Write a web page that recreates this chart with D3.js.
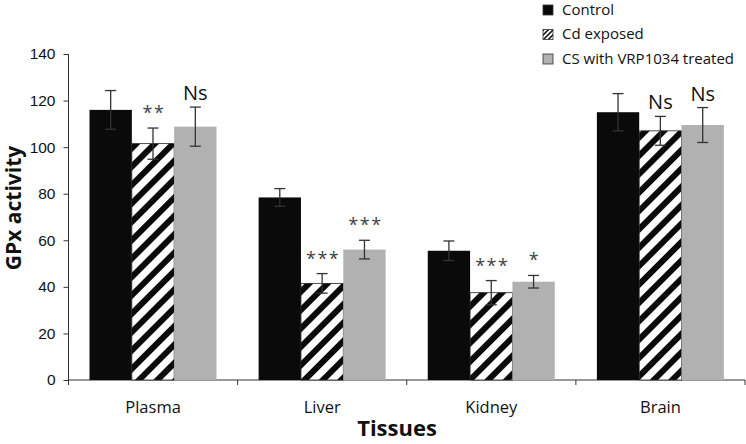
<!DOCTYPE html>
<html><head><meta charset="utf-8">
<script src="https://cdn.jsdelivr.net/npm/d3@7/dist/d3.min.js"></script>
<style>body{margin:0;background:#fff}svg{display:block;font-family:"Open Sans",sans-serif}</style>
</head><body><svg id="c" width="746" height="444"></svg>
<script>
const categories = ["Plasma","Liver","Kidney","Brain"];
const seriesNames = ["Control","Cd exposed","CS with VRP1034 treated"];
const controlVals = [116, 78.4, 55.5, 115];
const controlErr  = [8.3, 3.8, 4.2, 8];
const cdVals      = [101.5, 41.5, 37.5, 107];
const cdErr       = [6.7, 4.2, 5.2, 6.2];
const csVals      = [108.8, 56, 42.2, 109.5];
const csErr       = [8.4, 4, 2.7, 7.5];
const cdLabels    = ["**","***","***","Ns"];
const csLabels    = ["Ns","***","*","Ns"];
const yTicks      = [0,20,40,60,80,100,120,140];

const svg = d3.select("#c");
const defs = svg.append("defs");
const p1 = defs.append("pattern").attr("id","hatch").attr("patternUnits","userSpaceOnUse")
  .attr("width",13).attr("height",13).attr("patternTransform","rotate(45)");
p1.append("rect").attr("width",13).attr("height",13).attr("fill","#fff");
p1.append("rect").attr("x",0).attr("width",6).attr("height",13).attr("fill","#0a0a0a");
const p2 = defs.append("pattern").attr("id","hatchS").attr("patternUnits","userSpaceOnUse")
  .attr("width",3.4).attr("height",3.4).attr("patternTransform","rotate(45)");
p2.append("rect").attr("width",3.4).attr("height",3.4).attr("fill","#fff");
p2.append("rect").attr("width",1.6).attr("height",3.4).attr("fill","#111");

const y = d3.scaleLinear().domain([0,140]).range([380,54]);
const x0 = d3.scaleBand().domain(categories).range([68.5,745]);
const x1 = d3.scaleBand().domain(seriesNames).range([21,148]);

const series = [
  {name:seriesNames[0], vals:controlVals, err:controlErr, fill:"#0a0a0a", stroke:"none", labels:null},
  {name:seriesNames[1], vals:cdVals, err:cdErr, fill:"url(#hatch)", stroke:"#222", labels:cdLabels},
  {name:seriesNames[2], vals:csVals, err:csErr, fill:"#b1b1b1", stroke:"none", labels:csLabels}
];

// axes
const yAxis = svg.append("g").attr("transform","translate(68.5,0)")
  .call(d3.axisLeft(y).tickValues(yTicks).tickSize(5).tickPadding(8).tickSizeOuter(0));
yAxis.select(".domain").attr("stroke","#333").attr("d","M0,54V383");
yAxis.selectAll("line").attr("stroke","#333");
yAxis.selectAll("text").attr("font-size",15.5).attr("fill","#111");

const xAxis = svg.append("g").attr("transform","translate(0,380)");
xAxis.append("line").attr("x1",68.5).attr("x2",745).attr("stroke","#333");
const bounds = categories.map(c=>x0(c)).concat([x0.range()[1]]);
xAxis.selectAll(".tk").data(bounds).join("line").attr("x1",d=>d).attr("x2",d=>d)
  .attr("y1",0).attr("y2",5).attr("stroke","#333");
xAxis.selectAll(".lb").data(categories).join("text")
  .attr("x",d=>x0(d)+x0.bandwidth()/2).attr("y",33).attr("text-anchor","middle")
  .attr("font-size",16.5).attr("fill","#111").text(d=>d);

// bars
series.forEach(s=>{
  const g = svg.append("g");
  categories.forEach((c,i)=>{
    const bx = x0(c)+x1(s.name), bw = x1.bandwidth();
    g.append("rect").attr("x",bx).attr("y",y(s.vals[i])).attr("width",bw)
      .attr("height",y(0)-y(s.vals[i])).attr("fill",s.fill)
      .attr("stroke",s.stroke).attr("stroke-width",0.8);
  });
});
series.forEach(s=>{
  categories.forEach((c,i)=>{
    const cx = x0(c)+x1(s.name)+x1.bandwidth()/2;
    const t = y(s.vals[i]+s.err[i]), b = y(s.vals[i]-s.err[i]);
    const g = svg.append("g").attr("stroke","#333").attr("stroke-width",1.3);
    g.append("line").attr("x1",cx).attr("x2",cx).attr("y1",t).attr("y2",b);
    g.append("line").attr("x1",cx-5.5).attr("x2",cx+5.5).attr("y1",t).attr("y2",t);
    g.append("line").attr("x1",cx-5.5).attr("x2",cx+5.5).attr("y1",b).attr("y2",b);
    if (s.labels) {
      const lab = s.labels[i];
      const isNs = lab === "Ns";
      svg.append("text").attr("x",cx + (isNs?0:1)).attr("y",t-(isNs?7:9))
        .attr("text-anchor","middle").attr("font-size",isNs?20:18)
        .attr("letter-spacing",isNs?0:1.5).attr("fill",isNs?"#111":"#444")
        .text(lab);
    }
  });
});

// titles
svg.append("text").attr("transform","translate(21,208) rotate(-90)").attr("text-anchor","middle")
  .attr("font-size",21).attr("font-weight","bold").attr("fill","#111").text("GPx activity");
svg.append("text").attr("x",397).attr("y",436).attr("text-anchor","middle")
  .attr("font-size",22).attr("font-weight","bold").attr("fill","#111").text("Tissues");

// legend
const lg = svg.append("g");
const legFills = ["#0a0a0a","url(#hatchS)","#b1b1b1"];
seriesNames.forEach((n,i)=>{
  const yy = 5 + i*24.5;
  lg.append("rect").attr("x",543).attr("y",yy).attr("width",10).attr("height",10)
    .attr("fill",legFills[i]).attr("stroke","#333").attr("stroke-width",0.8);
  lg.append("text").attr("x",562).attr("y",yy+9.5).attr("font-size",15)
    .attr("fill","#111").text(n);
});
</script></body></html>
